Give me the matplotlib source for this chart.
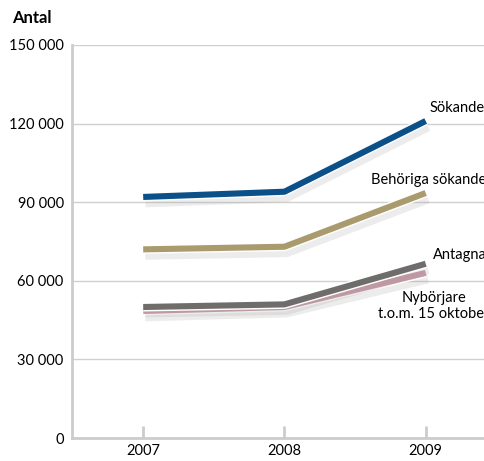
import matplotlib
matplotlib.use("Agg")
import matplotlib.pyplot as plt
import matplotlib.patheffects as pe

plt.rcParams['font.family'] = ['Lato', 'DejaVu Sans']

years = [2007, 2008, 2009]
sokande = [92000, 94000, 121000]
behoriga = [72000, 73000, 93500]
antagna = [50000, 51000, 66500]
nyborjare = [48500, 50000, 63000]

series = [
    (sokande, '#0b5088', 'Sökande'),
    (behoriga, '#aa9b6f', 'Behöriga sökande'),
    (antagna, '#6f6c6c', 'Antagna'),
    (nyborjare, '#c79aa6', 'Nybörjare\nt.o.m. 15 oktober'),
]

yticks = [0, 30000, 60000, 90000, 120000, 150000]
ylabels = ['0', '30 000', '60 000', '90 000', '120 000', '150 000']

fig = plt.figure(figsize=(4.85, 4.61), dpi=100, facecolor='w')
ax = fig.add_axes([72/485, 23/461, 413/485, 393/461])

ax.set_xlim(2006.496, 2009.42)
ax.set_ylim(0, 150000)

for v in yticks[1:]:
    ax.axhline(v, color='#d0d0d0', lw=1, zorder=0)

# back to front so the blue line sits on top
for vals, col, name in reversed(series):
    ax.plot(years, vals, color=col, lw=4.4, solid_capstyle='butt', zorder=3,
            path_effects=[pe.SimpleLineShadow(offset=(1.5, -3.5), shadow_color='#999999', alpha=0.18, linewidth=8),
                          pe.Stroke(linewidth=6.5, foreground='white'),
                          pe.Normal()])

fs = 10.5
ax.text(2009.03, 125900, 'Sökande', fontsize=fs, ha='left', va='center', clip_on=False)
ax.text(2008.61, 98500, 'Behöriga sökande', fontsize=fs, ha='left', va='center', clip_on=False)
ax.text(2009.05, 69900, 'Antagna', fontsize=fs, ha='left', va='center', clip_on=False)
ax.text(2009.06, 50400, 'Nybörjare\nt.o.m. 15 oktober', fontsize=fs, ha='center', va='center',
        linespacing=1.2, clip_on=False)

for s in ['top', 'right']:
    ax.spines[s].set_visible(False)
for s in ['left', 'bottom']:
    ax.spines[s].set_color('#cccccc')
    ax.spines[s].set_linewidth(2)

ax.set_yticks(yticks)
ax.set_yticklabels(ylabels, fontsize=fs)
ax.tick_params(axis='y', length=0, pad=6)
ax.set_xticks(years)
ax.set_xticklabels([str(y) for y in years], fontsize=fs)
ax.tick_params(axis='x', direction='in', length=9, width=2, color='#cccccc', pad=4)

fig.text(12/485, 1 - 18/461, 'Antal', fontsize=12, fontweight='bold', ha='left', va='center')

fig.savefig('out.png', dpi=100)
